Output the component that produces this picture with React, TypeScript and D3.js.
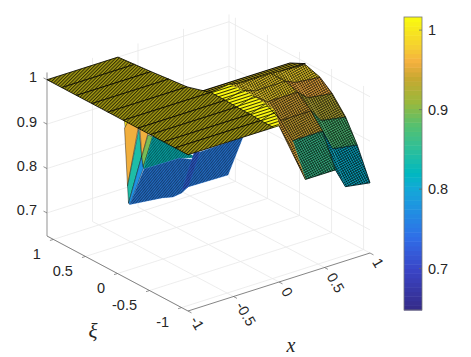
import React from 'react';
import * as d3 from 'd3';

const xTicks = [-1, -0.5, 0, 0.5, 1];
const xiTicks = [-1, -0.5, 0, 0.5, 1];
const zTicks = [0.7, 0.8, 0.9, 1];
const xDomain = [-1, 1];
const xiDomain = [1.1, -1.1];
const zDomain = [0.648, 1.0165];

// colormap
const cmapValues = [0.648, 0.7, 0.74, 0.78, 0.8, 0.82, 0.85, 0.88, 0.91, 0.94, 0.96, 0.98, 1.0165];
const cmapColors = ['#352a87', '#3a46c8', '#2f6fe8', '#1e96e0', '#14a8d8', '#00b8c0', '#2dbf9a', '#55c070', '#9bb83c', '#c8a830', '#f5b040', '#f5d030', '#f9fb0e'];

// mesh rows in xi
const xiRows = [1.1, 0.87, 0.64, 0.4, 0.15, -0.09, -0.32, -0.51, -0.72, -0.9, -1.1];
// flat part: z = 1 from x = -1 to this x, per row
const plateEnd = [-0.22, -0.2, -0.18, -0.155, -0.13, -0.04, -0.04, -0.05, -0.05, -0.06, -0.06];
const plateZ = 1;

// front rows (xi <= 0): band, bridge, strip B, step, strip A
const frontRows = [5, 6, 7, 8, 9, 10];
const frontX = [
  [-0.04, 0.16, 0.29, 0.62, 0.73, 1],
  [-0.04, 0.15, 0.29, 0.62, 0.73, 1],
  [-0.05, 0.14, 0.29, 0.62, 0.73, 1],
  [-0.05, 0.12, 0.29, 0.62, 0.73, 1],
  [-0.06, 0.1, 0.29, 0.62, 0.73, 1],
  [-0.06, 0, 0.29, 0.62, 0.73, 1],
];
const frontZ = [
  [1, 1.005, 1, 1, 0.998, 0.995],
  [1, 1.01, 1, 1, 0.99, 0.984],
  [1, 1.012, 0.99, 0.99, 0.97, 0.962],
  [1, 1.012, 0.964, 0.964, 0.935, 0.925],
  [1, 1.01, 0.932, 0.932, 0.885, 0.876],
  [1, 1, 0.86, 0.86, 0.815, 0.806],
];
const frontC = [
  [1.012, 0.985, 0.985, 0.985, 0.985],
  [1.012, 0.985, 0.985, 0.96, 0.96],
  [1.012, 0.98, 0.95, 0.93, 0.93],
  [1.012, 0.96, 0.945, 0.875, 0.875],
  [1.012, 0.955, 0.86, 0.81, 0.81],
];

// thin dark row behind the ridge
const ridgeX = [0, 1];
const ridgeXi = [0.15, -0.09];
const ridgeZ = [0.98, 0.997];

// low sheet seen under the flat part, all at one xi
const lowXi = 0.85;
const lowX = [
  [-0.33, -0.286, -0.308],
  [-0.324, -0.275, -0.17, -0.291],
  [-0.165, -0.135, -0.28, -0.291],
  [-0.135, -0.115, -0.264, -0.28],
  [-0.154, -0.066, -0.135],
  [-0.066, -0.016, -0.118, -0.135],
  [-0.016, 0.033, -0.104, -0.118],
  [-0.011, 0.473, 0.286, -0.11],
  [-0.11, 0.286, 0.462, 0.505, 0.978, 0.813, 0.374, 0.304, 0.209, 0.088, -0.264],
  [0.374, 0.505, 0.44, 0.308],
];
const lowZ = [
  [0.889, 0.886, 0.854],
  [0.866, 0.881, 0.861, 0.733],
  [0.856, 0.791, 0.694, 0.733],
  [0.791, 0.762, 0.69, 0.694],
  [0.855, 0.838, 0.789],
  [0.834, 0.826, 0.765, 0.789],
  [0.826, 0.814, 0.759, 0.765],
  [0.83, 0.747, 0.759, 0.76],
  [0.76, 0.759, 0.743, 0.758, 0.761, 0.686, 0.688, 0.679, 0.676, 0.682, 0.69],
  [0.688, 0.758, 0.762, 0.685],
];
const lowC = [0.995, 0.958, 0.84, 0.775, 0.958, 0.895, 0.85, 0.825, 0.755, 0.73];
const lowHatched = [false, false, false, false, false, false, false, true, true, true];

const origin = [47, 236];
const xSx = d3.scaleLinear().domain(xDomain).range([0, 182]);
const xSy = d3.scaleLinear().domain(xDomain).range([0, -58]);
const xiSx = d3.scaleLinear().domain(xiDomain).range([0, 141]);
const xiSy = d3.scaleLinear().domain(xiDomain).range([0, 75]);
const zSy = d3.scaleLinear().domain(zDomain).range([0, -163.6]);
const color = d3.scaleLinear<string>().domain(cmapValues).range(cmapColors).clamp(true);

function project(x: number, xi: number, z: number): [number, number] {
  return [
    origin[0] + xSx(x) + xiSx(xi),
    origin[1] + xSy(x) + xiSy(xi) + zSy(z),
  ];
}

const line = d3.line().curve(d3.curveLinearClosed);
const open = d3.line();

const FONT = '"Liberation Sans", Arial, sans-serif';
const TEXT = '#262626';
const FS = 14.5;

function Grid() {
  const [xMin, xMax] = xDomain;
  const [xiBack, xiFront] = xiDomain;
  const [zMin, zMax] = zDomain;
  const segs: [number, number][][] = [];
  xTicks.forEach(t => {
    segs.push([project(t, xiBack, zMin), project(t, xiFront, zMin)]);
    segs.push([project(t, xiBack, zMin), project(t, xiBack, zMax)]);
  });
  xiTicks.forEach(t => {
    segs.push([project(xMin, t, zMin), project(xMax, t, zMin)]);
    segs.push([project(xMax, t, zMin), project(xMax, t, zMax)]);
  });
  zTicks.forEach(t => {
    segs.push([project(xMin, xiBack, t), project(xMax, xiBack, t)]);
    segs.push([project(xMax, xiBack, t), project(xMax, xiFront, t)]);
  });
  return (
    <g stroke="#e8e8e8" strokeWidth={0.8} fill="none">
      {segs.map((s, i) => <path key={i} d={open(s) as string} />)}
    </g>
  );
}

function Axes() {
  const [xMin, xMax] = xDomain;
  const [xiBack, xiFront] = xiDomain;
  const [zMin, zMax] = zDomain;
  return (
    <g fontFamily={FONT} fontSize={FS} fill={TEXT}>
      <path d={open([project(xMin, xiBack, zMin), project(xMin, xiBack, zMax)]) as string} stroke="#b0b0b0" strokeWidth={1.3} fill="none" />
      <path d={open([project(xMin, xiBack, zMin), project(xMin, xiFront, zMin)]) as string} stroke="#777" strokeWidth={0.9} fill="none" />
      <path d={open([project(xMin, xiFront, zMin), project(xMax, xiFront, zMin)]) as string} stroke="#666" strokeWidth={0.8} fill="none" />
      {zTicks.map(t => {
        const [px, py] = project(xMin, xiBack, t);
        return (
          <g key={t}>
            <path d={`M${px},${py}l-3.5,-1.8`} stroke="#666" strokeWidth={0.7} />
            <text x={37} y={py - 2.5} textAnchor="end" dominantBaseline="central">{t}</text>
          </g>
        );
      })}
      {xiTicks.map(t => {
        const [px, py] = project(xMin, t, zMin);
        return (
          <g key={t}>
            <path d={`M${px},${py}l-3.5,1.1`} stroke="#666" strokeWidth={0.7} />
            <text x={px - 12.5} y={py + 14.5} textAnchor="end" dominantBaseline="central">{t}</text>
          </g>
        );
      })}
      {xTicks.map(t => {
        const [px, py] = project(t, xiFront, zMin);
        return (
          <g key={t}>
            <path d={`M${px},${py}l3.5,1.9`} stroke="#666" strokeWidth={0.7} />
            <text
              transform={`translate(${px + 6},${py + 6.5}) rotate(60)`}
              dominantBaseline="central"
            >{t}</text>
          </g>
        );
      })}
      <text x={93} y={331} textAnchor="middle" dominantBaseline="central" fontFamily='"Liberation Serif", serif' fontStyle="italic" fontSize={21}>ξ</text>
      <text x={291} y={345} textAnchor="middle" dominantBaseline="central" fontFamily='"Liberation Serif", serif' fontStyle="italic" fontSize={20}>x</text>
    </g>
  );
}

function Patch({ pts, c, hatch, edge = 0.5 }: { pts: [number, number][]; c: number; hatch?: string; edge?: number }) {
  const d = line(pts) as string;
  return (
    <g>
      <path d={d} fill={color(c)} stroke={edge ? '#000' : color(c)} strokeWidth={edge || 0.3} strokeLinejoin="round" />
      {hatch && <path d={d} fill={`url(#${hatch})`} />}
    </g>
  );
}

function Surface() {
  const low = lowX.map((xs, i) => {
    const pts = xs.map((x, j) => project(x, lowXi, lowZ[i][j]));
    return <Patch key={i} pts={pts} c={lowC[i]} hatch={lowHatched[i] ? 'hatchFine' : undefined} edge={lowHatched[i] ? 0 : 0.4} />;
  });

  const ridgePts = [
    project(ridgeX[0], ridgeXi[0], ridgeZ[0]),
    project(ridgeX[1], ridgeXi[0], ridgeZ[0]),
    project(ridgeX[1], ridgeXi[1], ridgeZ[1]),
    project(ridgeX[0], ridgeXi[1], ridgeZ[1]),
  ];

  const columns: React.ReactNode[] = [];
  for (let col = 4; col >= 0; col--) {
    for (let r = 0; r < frontRows.length - 1; r++) {
      const xiA = xiRows[frontRows[r]];
      const xiB = xiRows[frontRows[r + 1]];
      const pts = [
        project(frontX[r][col], xiA, frontZ[r][col]),
        project(frontX[r][col + 1], xiA, frontZ[r][col + 1]),
        project(frontX[r + 1][col + 1], xiB, frontZ[r + 1][col + 1]),
        project(frontX[r + 1][col], xiB, frontZ[r + 1][col]),
      ];
      columns.push(
        <Patch key={`${col}-${r}`} pts={pts} c={frontC[r][col]} hatch={col === 0 ? 'hatchBand' : 'hatchCross'} edge={0} />
      );
    }
  }

  // row lines across the front part, and the edges that stay dark
  const rowPath = (r: number) => frontX[r].map((x, c) => project(x, xiRows[frontRows[r]], frontZ[r][c]));
  const colPath = (c: number) => frontRows.map((row, r) => project(frontX[r][c], xiRows[row], frontZ[r][c]));
  const meshLines = [
    ...frontRows.map((_, r) => rowPath(r)),
    colPath(3),
    colPath(5),
  ];

  const plate = xiRows.slice(0, -1).map((xi, r) => {
    const next = xiRows[r + 1];
    const pts = [
      project(xDomain[0], xi, plateZ),
      project(plateEnd[r], xi, plateZ),
      project(plateEnd[r + 1], next, plateZ),
      project(xDomain[0], next, plateZ),
    ];
    return <Patch key={r} pts={pts} c={plateZ} hatch="hatchDiag" edge={0.8} />;
  });

  return (
    <g>
      {low}
      <Patch pts={ridgePts} c={0.99} hatch="hatchDark" edge={0.9} />
      {columns}
      <g fill="none" stroke="#000" strokeWidth={0.7}>
        {meshLines.map((p, i) => <path key={i} d={open(p) as string} />)}
      </g>
      {plate}
    </g>
  );
}

function Colorbar() {
  const cbY = d3.scaleLinear().domain(zDomain).range([310, 17]);
  const cbX = [404, 422];
  const steps = d3.range(64);
  const band = (zDomain[1] - zDomain[0]) / steps.length;
  return (
    <g fontFamily={FONT} fontSize={FS} fill={TEXT}>
      {steps.map(i => {
        const v0 = zDomain[0] + band * i;
        return (
          <rect
            key={i}
            x={cbX[0]}
            y={cbY(v0 + band)}
            width={cbX[1] - cbX[0]}
            height={cbY(v0) - cbY(v0 + band) + 0.5}
            fill={color(v0 + band / 2)}
          />
        );
      })}
      <rect x={cbX[0]} y={cbY(zDomain[1])} width={cbX[1] - cbX[0]} height={cbY(zDomain[0]) - cbY(zDomain[1])} fill="none" stroke="#777" strokeWidth={0.8} />
      {zTicks.map(t => (
        <g key={t}>
          <path d={`M${cbX[1] - 3},${cbY(t)}h3`} stroke="#666" strokeWidth={0.7} />
          <text x={428} y={cbY(t)} dominantBaseline="central">{t}</text>
        </g>
      ))}
    </g>
  );
}

export default function App() {
  return (
    <svg width={471} height={357} style={{ position: 'absolute', left: 0, top: 0, background: '#fff' }}>
      <defs>
        <pattern id="hatchDiag" width={2.4} height={2.4} patternUnits="userSpaceOnUse" patternTransform="rotate(-45)">
          <rect width={2.4} height={2.4} fill="#000" opacity={0.32} />
          <rect width={2.4} height={1.1} fill="#000" opacity={0.7} />
        </pattern>
        <pattern id="hatchBand" width={3} height={3} patternUnits="userSpaceOnUse" patternTransform="rotate(-18)">
          <rect width={3} height={1} fill="#000" opacity={0.8} />
        </pattern>
        <pattern id="hatchCross" width={2.2} height={2.2} patternUnits="userSpaceOnUse" patternTransform="rotate(-30)">
          <rect width={2.2} height={2.2} fill="#000" opacity={0.16} />
          <rect width={2.2} height={0.5} fill="#000" opacity={0.85} />
          <rect width={0.5} height={2.2} fill="#000" opacity={0.85} />
        </pattern>
        <pattern id="hatchFine" width={2} height={2} patternUnits="userSpaceOnUse" patternTransform="rotate(-50)">
          <rect width={2} height={2} fill="#000" opacity={0.15} />
          <rect width={2} height={0.55} fill="#000" opacity={0.75} />
        </pattern>
        <pattern id="hatchDark" width={1.6} height={1.6} patternUnits="userSpaceOnUse" patternTransform="rotate(-18)">
          <rect width={1.6} height={1.1} fill="#000" opacity={0.9} />
        </pattern>
      </defs>
      <Grid />
      <Axes />
      <Surface />
      <Colorbar />
    </svg>
  );
}
